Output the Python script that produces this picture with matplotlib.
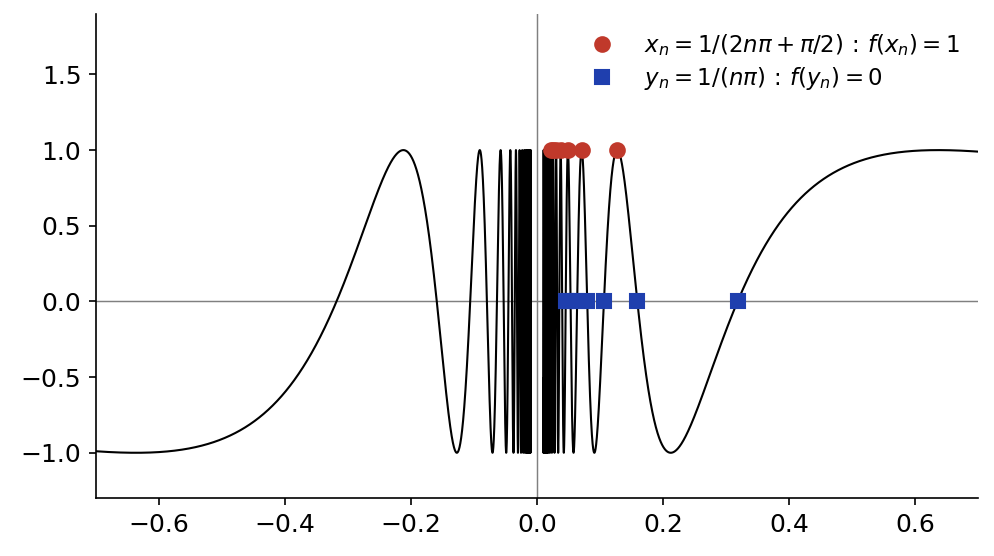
import numpy as np
import matplotlib.pyplot as plt

# indices of the marked points
n_vals = [1, 2, 3, 4, 5, 6, 7]
x_lim = [-0.7, 0.7]
y_lim = [-1.3, 1.9]
gap = 0.01  # curve not drawn for |x| < gap

def f(x):
    return np.sin(1 / x)

n = np.array(n_vals, dtype=float)
xn = 1 / (2 * n * np.pi + np.pi / 2)
yn = 1 / (n * np.pi)

xl = np.linspace(x_lim[0], -gap, 60000)
xr = np.linspace(gap, x_lim[1], 60000)

fig = plt.figure(figsize=(994 / 150, 556 / 150), dpi=150)
ax = fig.add_axes([0.0966, 0.104, 0.8874, 0.871])

ax.axhline(0, color='gray', lw=0.7, zorder=1)
ax.axvline(0, color='gray', lw=0.7, zorder=1)
ax.plot(xl, f(xl), color='black', lw=1.0, zorder=2)
ax.plot(xr, f(xr), color='black', lw=1.0, zorder=2)
ax.plot(xn, f(xn), 'o', color='#c0392b', ms=7, ls='none', zorder=3,
        label=r'$x_n = 1/(2n\pi + \pi/2)\,:\,f(x_n) = 1$')
ax.plot(yn, np.zeros_like(yn), 's', color='#1f3fae', ms=6.3, ls='none', zorder=3,
        label=r'$y_n = 1/(n\pi)\,:\,f(y_n) = 0$')

ax.set_xlim(x_lim)
ax.set_ylim(y_lim)
ax.set_yticks([-1.0, -0.5, 0.0, 0.5, 1.0, 1.5])
ax.tick_params(labelsize=12)
ax.spines['top'].set_visible(False)
ax.spines['right'].set_visible(False)
ax.legend(loc='upper right', frameon=False, fontsize=11,
          labelspacing=0.3, borderaxespad=0.4)

fig.savefig('out.png', dpi=150)
